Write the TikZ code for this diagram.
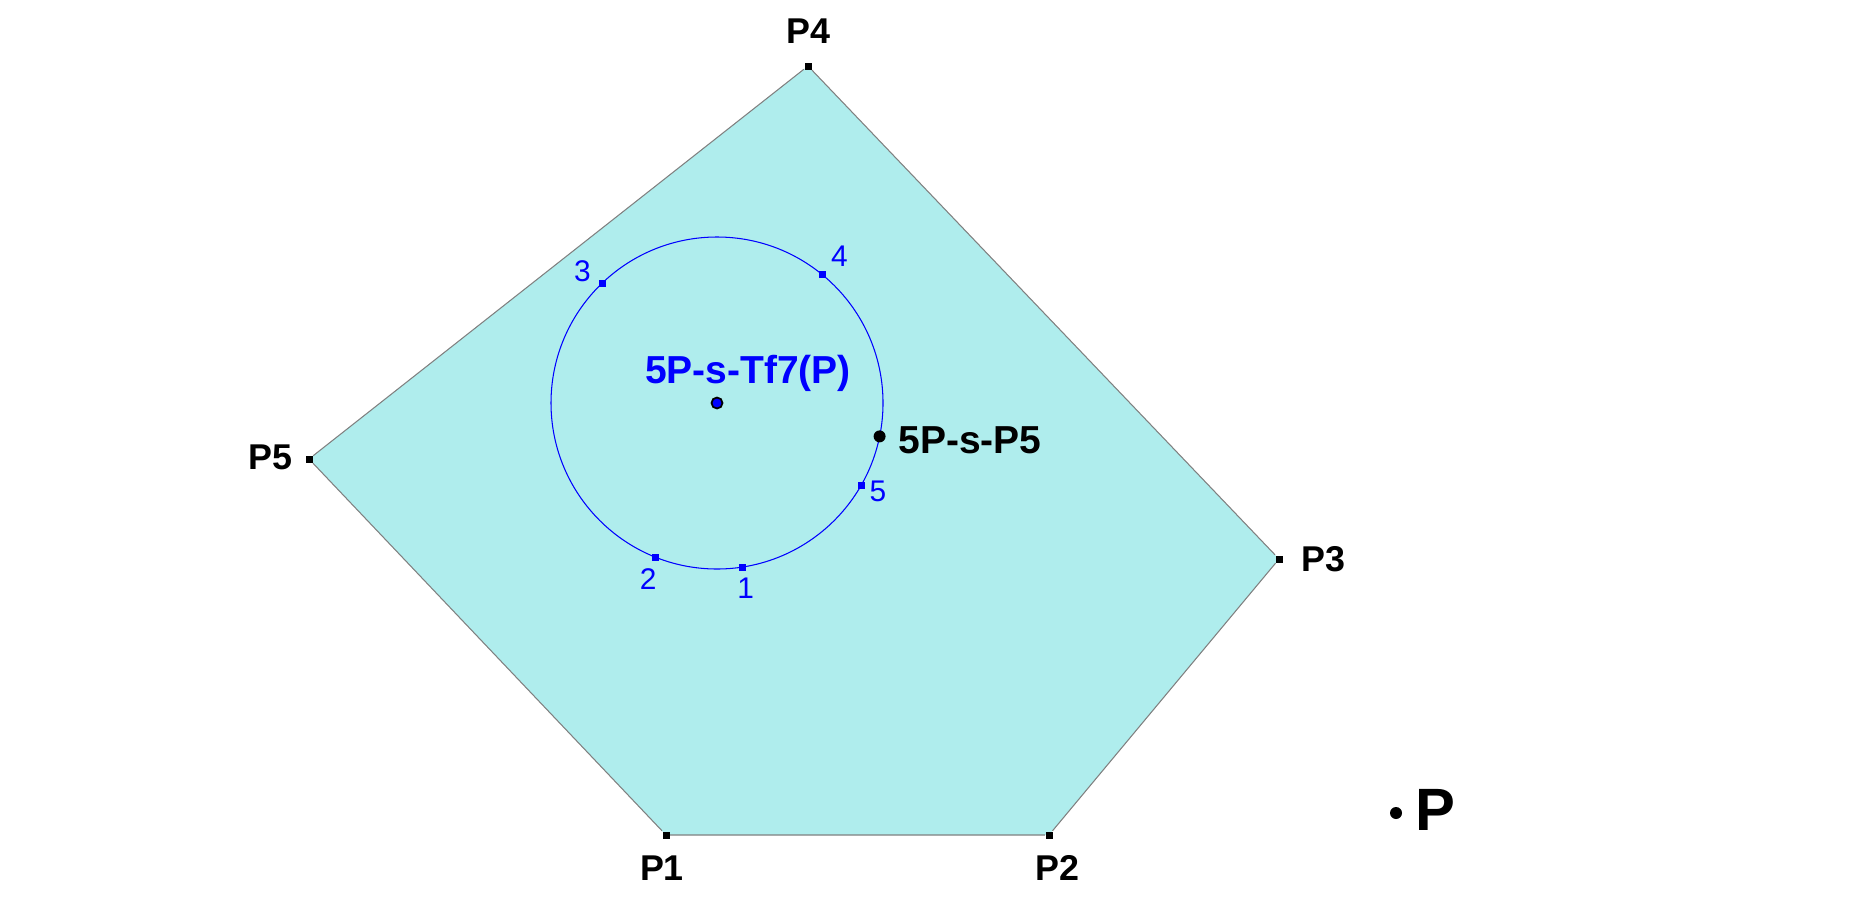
\documentclass[tikz,border=0pt]{standalone}
\usepackage{fontspec}
\setmainfont{Liberation Sans}
\usetikzlibrary{positioning,calc}
\definecolor{paleturq}{RGB}{175,237,237}

\begin{document}
\begin{tikzpicture}
\tikzset{VertexStyle/.style = {shape = rectangle, fill = black, inner sep = 0pt, minimum size = 0.07cm},
  MarkStyle/.style = {VertexStyle, fill = blue},
  DotStyle/.style = {shape = circle, fill = black, inner sep = 0pt, minimum size = 0.12cm},
  VLabel/.style = {font = \fontsize{10.2}{12}\selectfont\bfseries, inner sep = 1pt},
  CLabel/.style = {font = \fontsize{11.1}{13}\selectfont\bfseries, inner sep = 1pt},
  NLabel/.style = {font = \fontsize{8.5}{10}\selectfont, text = blue, inner sep = 1pt}}
\useasboundingbox (0,0) rectangle (18.57,9.14);
\coordinate (c1) at (6.66,0.79); \coordinate (c2) at (10.49,0.79); \coordinate (c3) at (12.79,3.55);
\coordinate (c4) at (8.08,8.48); \coordinate (c5) at (3.09,4.55); \coordinate (c0) at (7.17,5.11);
% pentagon and circle
\fill[paleturq] (c1) -- (c2) -- (c3) -- (c4) -- (c5) -- cycle;
\draw[blue, line width=0.3pt] (c0) circle (1.66);
\node[VertexStyle] (v1) at (c1) {}; \node[VertexStyle] (v2) at (c2) {}; \node[VertexStyle] (v3) at (c3) {};
\node[VertexStyle] (v4) at (c4) {}; \node[VertexStyle] (v5) at (c5) {};
\draw[gray, line width=0.3pt] (v1) -- (v2) -- (v3) -- (v4) -- (v5) -- (v1);
\node[MarkStyle] (m1) at ($(c0)+(-81.1:1.66)$) {}; \node[MarkStyle] (m2) at ($(c0)+(-111.9:1.66)$) {};
\node[MarkStyle] (m3) at ($(c0)+(133.8:1.66)$) {}; \node[MarkStyle] (m4) at ($(c0)+(50.5:1.66)$) {};
\node[MarkStyle] (m5) at ($(c0)+(-29.7:1.66)$) {};
\node[DotStyle, fill = blue, draw = black, line width = 0.5pt, minimum size = 0.11cm] (C) at (c0) {};
\node[DotStyle] (S) at ($(c0)+(-11.6:1.66)$) {};
\node[DotStyle] (P) at (13.96,1.01) {};
% labels
\node[VLabel, below=0.12cm of v1, xshift=-0.04cm] (l1) {P1};
\node[VLabel, below=0.12cm of v2, xshift=0.08cm] (l2) {P2};
\node[VLabel, right=0.14cm of v3] (l3) {P3};
\node[VLabel, above=0.14cm of v4] (l4) {P4};
\node[VLabel, left=0.08cm of v5, yshift=0.02cm] (l5) {P5};
\node[NLabel, below=0.03cm of m1, xshift=0.03cm] (n1) {1};
\node[NLabel, below=0.03cm of m2, xshift=-0.07cm] (n2) {2};
\node[NLabel, left=0.03cm of m3, yshift=0.12cm] (n3) {3};
\node[NLabel, above right=0cm of m4] (n4) {4};
\node[NLabel, right=0cm of m5, yshift=-0.065cm] (n5) {5};
\node[CLabel, text = blue, anchor = base] (tC) at ($(c0)+(0.31,0.2)$) {5P-s-Tf7(P)};
\node[CLabel, right=0.08cm of S, yshift=-0.04cm] (tS) {5P-s-P5};
\node[font = \fontsize{17}{20}\selectfont\bfseries, inner sep = 1pt, right=0.09cm of P, yshift=0.035cm] (tP) {P};
\end{tikzpicture}
\end{document}
